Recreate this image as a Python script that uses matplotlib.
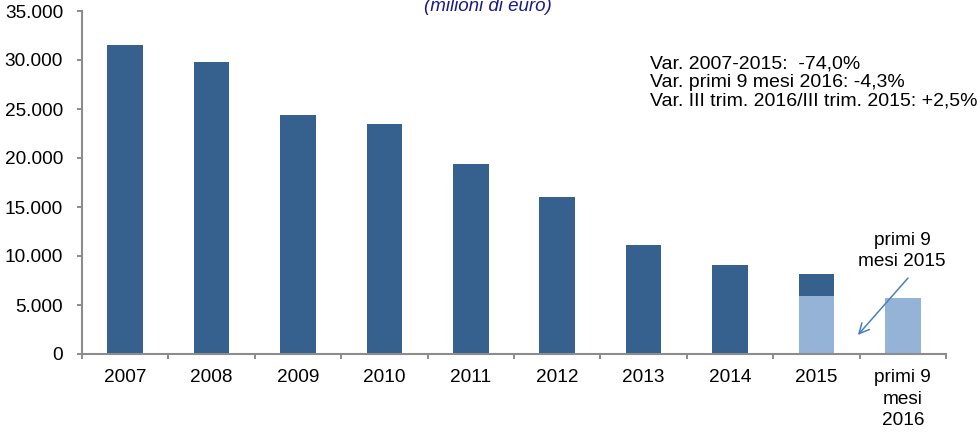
import matplotlib
matplotlib.use("Agg")
import matplotlib.pyplot as plt
import numpy as np

plt.rcParams['font.family'] = ['Liberation Sans', 'DejaVu Sans']

categorie = ['2007', '2008', '2009', '2010', '2011', '2012', '2013', '2014', '2015', 'primi 9\nmesi\n2016']
valori_anno = [31500, 29800, 24400, 23450, 19400, 16000, 11150, 9100, 8150, 0]
valori_9mesi = [0, 0, 0, 0, 0, 0, 0, 0, 5900, 5700]
note = ['Var. 2007-2015:  -74,0%',
        'Var. primi 9 mesi 2016: -4,3%',
        'Var. III trim. 2016/III trim. 2015: +2,5%']

blu = '#36618f'
azzurro = '#95b3d7'
grigio = '#8c8c8c'

fig = plt.figure(figsize=(9.8, 4.33), dpi=100)
ax = fig.add_axes([82/980, 1 - 354/433, 864/980, 343/433])

x = np.arange(len(categorie))
ax.bar(x, valori_anno, width=0.41, color=blu)
ax.bar(x, valori_9mesi, width=0.41, color=azzurro)

ax.set_xlim(-0.5, len(categorie) - 0.5)
ax.set_ylim(0, 35000)
ax.set_yticks(np.arange(0, 35001, 5000))
ax.set_yticklabels([f'{v:,}'.replace(',', '.') for v in range(0, 35001, 5000)])
ax.set_xticks(x)
ax.set_xticklabels(categorie, linespacing=1.35, va='top')
ax.set_xticks(np.arange(-0.5, len(categorie), 1), minor=True)
ax.tick_params(axis='x', which='major', length=0, pad=11)
ax.tick_params(axis='x', which='minor', length=3.6, color=grigio, width=1.4)
ax.tick_params(axis='y', length=3.6, color=grigio, width=1.4, pad=10)
ax.tick_params(labelsize=13.7, labelcolor='black')

for s in ['top', 'right']:
    ax.spines[s].set_visible(False)
for s in ['left', 'bottom']:
    ax.spines[s].set_color(grigio)
    ax.spines[s].set_linewidth(1.5)

fig.text(488/980, 1 - 15/433, '(milioni di euro)', ha='center', va='bottom',
         fontsize=13.5, style='italic', color='#1a1a8c')

ax.text(0.657, 0.87, '\n'.join(note), transform=ax.transAxes, ha='left', va='top',
        fontsize=14, linespacing=1.13)

ax.text(8.99, 10500, 'primi 9\nmesi 2015', ha='center', va='center',
        fontsize=13.7, linespacing=1.25)
ax.annotate('', xy=(8.48, 1940), xytext=(9.06, 7750),
            arrowprops=dict(arrowstyle='->', color='#4a7fc1', lw=1.1,
                            shrinkA=0, shrinkB=0, mutation_scale=18))

fig.savefig('out.png', dpi=100)
